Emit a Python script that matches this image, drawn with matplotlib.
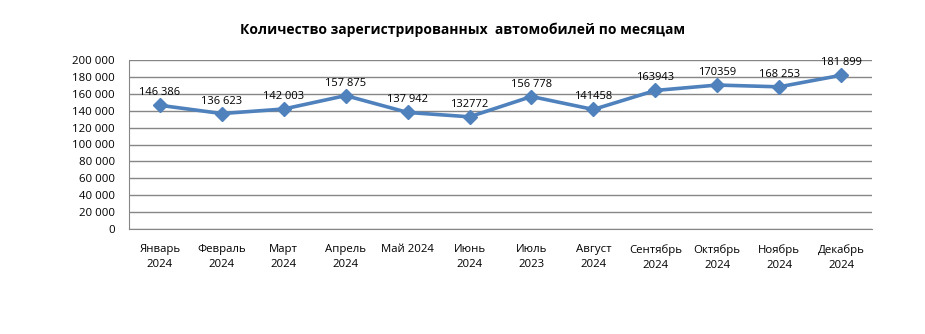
import matplotlib.pyplot as plt
from matplotlib.ticker import FuncFormatter

plt.rcParams['font.family'] = ['Open Sans', 'DejaVu Sans']

# Monthly registrations
months = ["Январь\n2024", "Февраль\n2024", "Март\n2024", "Апрель\n2024", "Май 2024",
          "Июнь\n2024", "Июль\n2023", "Август\n2024", "Сентябрь\n2024", "Октябрь\n2024",
          "Ноябрь\n2024", "Декабрь\n2024"]
values = [146386, 136623, 142003, 157875, 137942, 132772,
          156778, 141458, 163943, 170359, 168253, 181899]
labels = ["146 386", "136 623", "142 003", "157 875", "137 942", "132772",
          "156 778", "141458", "163943", "170359", "168 253", "181 899"]

fig = plt.figure(figsize=(9.25, 3.34), dpi=100)
ax = fig.add_axes([129 / 925, 1 - 229 / 334, (872 - 129) / 925, (229 - 60) / 334])

x = range(len(months))
ax.plot(x, values, color="#4F81BD", linewidth=2.6, marker="D", markersize=7.5,
        markerfacecolor="#4F81BD", markeredgecolor="#4F81BD", zorder=3)

for i, (v, t) in enumerate(zip(values, labels)):
    ax.annotate(t, (i, v), xytext=(0, 9), textcoords="offset points",
                ha="center", va="center", fontsize=8, color="black")

ax.set_xlim(-0.5, len(months) - 0.5)
ax.set_ylim(0, 200000)
ax.set_yticks(range(0, 200001, 20000))
ax.yaxis.set_major_formatter(FuncFormatter(lambda v, p: f"{int(v):,}".replace(",", " ")))
ax.set_xticks(list(x))
ax.set_xticklabels(months, fontsize=8.2, linespacing=1.45)
ax.tick_params(axis="y", labelsize=8.2, length=0, pad=10)
ax.tick_params(axis="x", length=0, pad=11)

ax.grid(axis="y", color="#868686", linewidth=1)
ax.set_axisbelow(True)
for s in ["top", "right"]:
    ax.spines[s].set_visible(False)
ax.spines["left"].set_color("#868686")
ax.spines["bottom"].set_color("#868686")

fig.text(463 / 925, 1 - 30 / 334, "Количество зарегистрированных  автомобилей по месяцам",
         ha="center", va="center", fontsize=10, fontweight="bold")

fig.savefig("out.png", dpi=100)
